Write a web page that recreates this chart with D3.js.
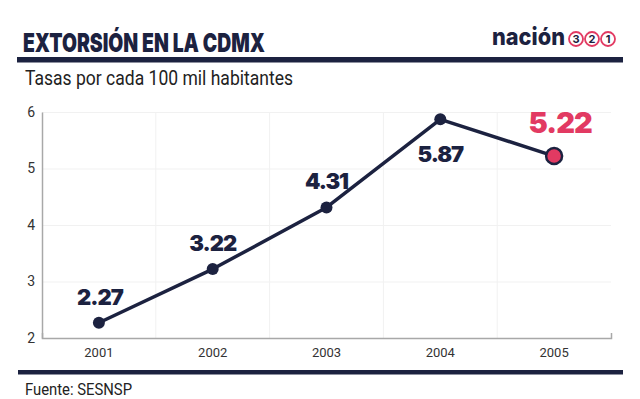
<!DOCTYPE html>
<html>
<head>
<meta charset="utf-8">
<script src="https://cdn.jsdelivr.net/npm/d3@7"></script>
<style>
  html, body { margin: 0; padding: 0; background: #fff; }
  svg { display: block; }
</style>
</head>
<body>
<svg id="chart"></svg>
<script>
const years = ["2001", "2002", "2003", "2004", "2005"];
const rates = [2.27, 3.22, 4.31, 5.87, 5.22];
const yTicks = [2, 3, 4, 5, 6];
const logoDigits = ["3", "2", "1"];

const width = 640;
const height = 399;
const navy = "#1c2240";
const red = "#e23a62";

const svg = d3.select("#chart")
  .attr("width", width)
  .attr("height", height);

// header
svg.append("text")
  .attr("x", 23).attr("y", 51.5)
  .attr("font-family", "Inter")
  .attr("font-weight", 900)
  .attr("font-size", 26)
  .attr("fill", navy)
  .attr("textLength", 242)
  .attr("lengthAdjust", "spacingAndGlyphs")
  .text("EXTORSIÓN EN LA CDMX");

svg.append("text")
  .attr("x", 492).attr("y", 45)
  .attr("font-family", "Inter")
  .attr("font-weight", 800)
  .attr("font-size", 24)
  .attr("fill", navy)
  .attr("textLength", 73)
  .attr("lengthAdjust", "spacingAndGlyphs")
  .text("nación");

const logo = svg.append("g").selectAll("g")
  .data(logoDigits)
  .join("g")
  .attr("transform", (d, i) => `translate(${576 + i * 16},39)`);
logo.append("circle")
  .attr("r", 7)
  .attr("fill", "#fff")
  .attr("stroke", red)
  .attr("stroke-width", 1.8);
logo.append("text")
  .attr("text-anchor", "middle")
  .attr("dy", "0.36em")
  .attr("font-family", "Inter")
  .attr("font-weight", 700)
  .attr("font-size", 11)
  .attr("fill", navy)
  .text(d => d);

svg.append("rect")
  .attr("x", 17).attr("y", 57)
  .attr("width", 606).attr("height", 5.5)
  .attr("fill", navy);

svg.append("text")
  .attr("x", 25).attr("y", 85)
  .attr("font-family", "Roboto")
  .attr("font-size", 20)
  .attr("fill", "#222")
  .attr("textLength", 268)
  .attr("lengthAdjust", "spacingAndGlyphs")
  .text("Tasas por cada 100 mil habitantes");

// scales
const x = d3.scaleBand().domain(years).range([42, 611]).padding(0);
const y = d3.scaleLinear().domain([2, 6]).range([338, 112]);

// gridlines
svg.append("g")
  .attr("transform", "translate(42,0)")
  .call(d3.axisLeft(y).tickValues(yTicks).tickSize(-569).tickFormat(""))
  .call(g => g.select(".domain").remove())
  .call(g => g.selectAll("line").attr("stroke", "#f1f1f1").attr("stroke-width", 1));

svg.append("g")
  .selectAll("line")
  .data(years.slice(1))
  .join("line")
  .attr("x1", d => x(d)).attr("x2", d => x(d))
  .attr("y1", y(6)).attr("y2", y(2))
  .attr("stroke", "#f1f1f1");

// axes
svg.append("g")
  .attr("transform", "translate(42,0)")
  .call(d3.axisLeft(y).tickValues(yTicks).tickSize(0).tickPadding(7).tickFormat(d3.format("d")))
  .call(g => g.select(".domain").attr("stroke", "#a8a8a8").attr("stroke-width", 1.5))
  .call(g => g.selectAll("text")
    .attr("font-family", "Roboto")
    .attr("font-size", 14)
    .attr("fill", "#333"));

svg.append("g")
  .attr("transform", `translate(0,${y(2)})`)
  .call(d3.axisBottom(x).tickSize(0).tickPadding(10).tickSizeOuter(-5))
  .call(g => g.select(".domain").attr("stroke", "#a8a8a8").attr("stroke-width", 1.5))
  .call(g => g.selectAll("text")
    .attr("font-family", "Roboto")
    .attr("font-size", 13)
    .attr("fill", "#333"));

// line
const cx = d => x(d) + x.bandwidth() / 2;
const line = d3.line()
  .x((d, i) => cx(years[i]))
  .y(d => y(d));

svg.append("path")
  .datum(rates)
  .attr("d", line)
  .attr("fill", "none")
  .attr("stroke", navy)
  .attr("stroke-width", 3.5)
  .attr("stroke-linejoin", "round");

const last = rates.length - 1;
svg.append("g")
  .selectAll("circle")
  .data(rates)
  .join("circle")
  .attr("cx", (d, i) => cx(years[i]))
  .attr("cy", d => y(d))
  .attr("r", (d, i) => i === last ? 8 : 6)
  .attr("fill", (d, i) => i === last ? red : navy)
  .attr("stroke", navy)
  .attr("stroke-width", (d, i) => i === last ? 2.5 : 0);

// value labels: the peak sits below its point, the last one is highlighted
const peak = rates.indexOf(d3.max(rates));
svg.append("g")
  .selectAll("text")
  .data(rates)
  .join("text")
  .attr("x", (d, i) => cx(years[i]) + (i === 0 ? 1 : 0) + (i === last ? 6 : 0))
  .attr("y", (d, i) => i === peak ? y(d) + 43 : i === last ? y(d) - 23 : y(d) - 18)
  .attr("text-anchor", "middle")
  .attr("font-family", "Inter")
  .attr("font-weight", 900)
  .attr("font-size", (d, i) => i === last ? 29 : 22)
  .attr("letter-spacing", -1)
  .attr("fill", (d, i) => i === last ? red : navy)
  .text(d => d3.format(".2f")(d));

// footer
svg.append("rect")
  .attr("x", 18).attr("y", 370)
  .attr("width", 605).attr("height", 4.5)
  .attr("fill", navy);

svg.append("text")
  .attr("x", 25).attr("y", 395)
  .attr("font-family", "Roboto")
  .attr("font-size", 16)
  .attr("fill", "#222")
  .attr("textLength", 107)
  .attr("lengthAdjust", "spacingAndGlyphs")
  .text("Fuente: SESNSP");
</script>
</body>
</html>
